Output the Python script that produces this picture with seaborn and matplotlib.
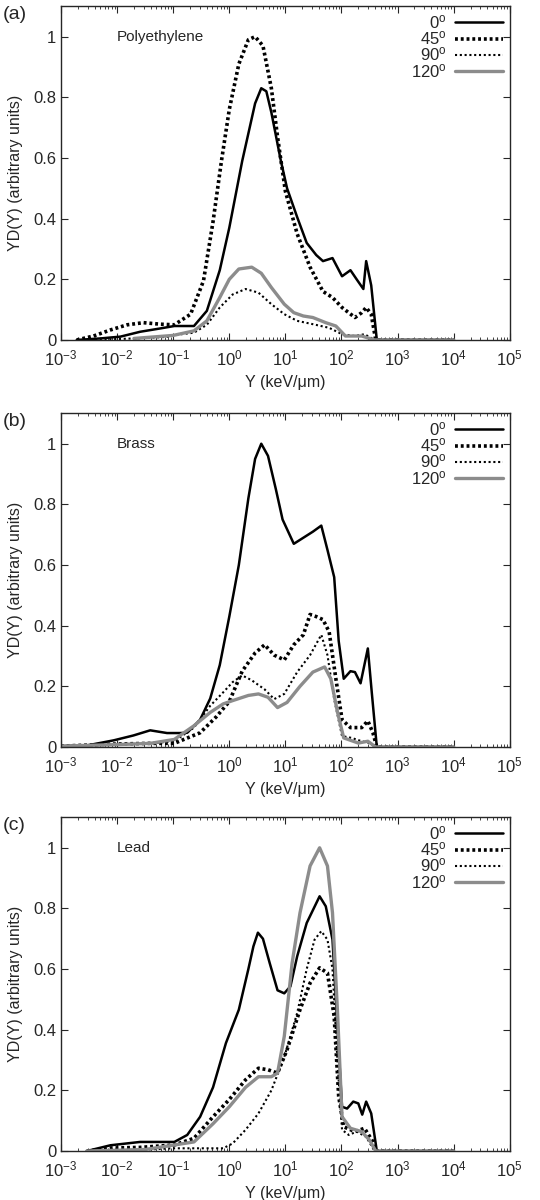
import numpy as np
import pandas as pd
import matplotlib
matplotlib.use("Agg")
import matplotlib.pyplot as plt
import seaborn as sns
from matplotlib.ticker import LogLocator, NullFormatter, FuncFormatter, MultipleLocator

# x values stored as log10(Y / keV/um)
angles = ["0", "45", "90", "120"]

# (a) Polyethylene
pe_0_lx = [-2.72, -2.3, -1.94, -1.59, -1.23, -0.98, -0.63, -0.4, -0.17, 0.0, 0.23, 0.46, 0.57, 0.66, 0.75,
           0.92, 1.03, 1.21, 1.38, 1.55, 1.67, 1.84, 2.01, 2.16, 2.27, 2.39, 2.44, 2.53, 2.63, 3.0, 3.5, 4.0]
pe_0_y = [0.0, 0.005, 0.011, 0.027, 0.038, 0.046, 0.046, 0.096, 0.23, 0.37, 0.59, 0.78, 0.83, 0.82, 0.75,
          0.59, 0.50, 0.405, 0.32, 0.28, 0.26, 0.27, 0.21, 0.23, 0.2, 0.168, 0.26, 0.18, 0.0, 0.0, 0.0, 0.0]
pe_45_lx = [-2.72, -2.42, -2.12, -1.82, -1.53, -1.23, -0.98, -0.69, -0.46, -0.29, -0.14, 0.0, 0.17, 0.34,
            0.46, 0.6, 0.75, 0.86, 1.0, 1.21, 1.44, 1.67, 1.84, 2.01, 2.24, 2.36, 2.44, 2.53, 2.61, 3.0, 3.5, 4.0]
pe_45_y = [0.0, 0.013, 0.033, 0.05, 0.057, 0.052, 0.05, 0.085, 0.195, 0.39, 0.59, 0.76, 0.91, 0.99,
           1.0, 0.97, 0.83, 0.67, 0.49, 0.35, 0.24, 0.16, 0.14, 0.107, 0.074, 0.09, 0.107, 0.085, 0.0, 0.0, 0.0, 0.0]
pe_90_lx = [-2.48, -1.7, -1.11, -0.9, -0.63, -0.4, -0.17, 0.06, 0.29, 0.52, 0.75, 0.98, 1.21, 1.49, 1.78,
            2.01, 2.24, 2.41, 2.59, 3.0, 3.5, 4.0]
pe_90_y = [0.0, 0.005, 0.01, 0.018, 0.024, 0.05, 0.107, 0.15, 0.168, 0.156, 0.118, 0.085, 0.063, 0.052, 0.04,
           0.019, 0.013, 0.019, 0.0, 0.0, 0.0, 0.0]
pe_120_lx = [-1.7, -1.0, -0.63, -0.4, -0.17, 0.0, 0.17, 0.4, 0.57, 0.75, 0.98, 1.15, 1.32, 1.49, 1.72,
             1.9, 2.07, 2.36, 2.59, 3.0, 3.5, 4.0]
pe_120_y = [0.005, 0.015, 0.03, 0.063, 0.14, 0.2, 0.234, 0.24, 0.22, 0.173, 0.118, 0.09, 0.079, 0.074, 0.057,
            0.046, 0.013, 0.013, 0.0, 0.0, 0.0, 0.0]

# (b) Brass
br_0_lx = [-3.0, -2.54, -2.06, -1.71, -1.41, -1.11, -0.88, -0.75, -0.52, -0.34, -0.17, 0.0, 0.17, 0.34,
           0.46, 0.57, 0.69, 0.83, 0.95, 1.15, 1.32, 1.49, 1.64, 1.75, 1.87, 1.95, 2.04, 2.16, 2.24, 2.34,
           2.47, 2.54, 2.63, 3.0, 3.5, 4.0]
br_0_y = [0.003, 0.005, 0.022, 0.038, 0.055, 0.046, 0.046, 0.047, 0.09, 0.16, 0.27, 0.43, 0.6, 0.82,
          0.95, 1.0, 0.96, 0.85, 0.75, 0.67, 0.69, 0.71, 0.73, 0.65, 0.56, 0.35, 0.225, 0.25, 0.247, 0.21,
          0.325, 0.18, 0.0, 0.0, 0.0, 0.0]
br_45_lx = [-3.0, -2.0, -1.41, -0.98, -0.52, -0.23, 0.0, 0.23, 0.46, 0.63, 0.8, 0.98, 1.15, 1.32, 1.44,
            1.55, 1.67, 1.78, 1.9, 2.01, 2.16, 2.36, 2.47, 2.56, 2.63, 3.0, 3.5, 4.0]
br_45_y = [0.003, 0.01, 0.012, 0.012, 0.047, 0.1, 0.15, 0.25, 0.31, 0.337, 0.303, 0.287, 0.337, 0.37, 0.437,
           0.43, 0.42, 0.38, 0.225, 0.09, 0.064, 0.064, 0.086, 0.047, 0.0, 0.0, 0.0, 0.0]
br_90_lx = [-3.0, -2.0, -1.41, -0.98, -0.63, -0.34, -0.11, 0.06, 0.23, 0.4, 0.63, 0.8, 0.98, 1.21, 1.44,
            1.64, 1.75, 1.87, 2.01, 2.18, 2.36, 2.5, 2.61, 3.0, 3.5, 4.0]
br_90_y = [0.003, 0.008, 0.012, 0.019, 0.064, 0.136, 0.18, 0.214, 0.236, 0.22, 0.19, 0.158, 0.175, 0.247, 0.303,
           0.37, 0.303, 0.158, 0.036, 0.03, 0.019, 0.013, 0.0, 0.0, 0.0, 0.0]
br_120_lx = [-3.0, -2.0, -1.41, -0.98, -0.63, -0.34, -0.11, 0.06, 0.34, 0.52, 0.69, 0.86, 1.03, 1.26, 1.49,
             1.7, 1.81, 1.93, 2.04, 2.3, 2.47, 2.61, 3.0, 3.5, 4.0]
br_120_y = [0.003, 0.008, 0.012, 0.025, 0.07, 0.114, 0.142, 0.153, 0.17, 0.175, 0.164, 0.13, 0.147, 0.2, 0.247,
            0.264, 0.225, 0.114, 0.03, 0.013, 0.019, 0.0, 0.0, 0.0, 0.0]

# (c) Lead
pb_0_lx = [-2.54, -2.12, -1.59, -1.23, -0.98, -0.75, -0.52, -0.29, -0.06, 0.17, 0.34, 0.43, 0.51, 0.6,
           0.72, 0.86, 0.98, 1.09, 1.21, 1.38, 1.61, 1.72, 1.84, 1.93, 2.01, 2.1, 2.21, 2.3, 2.37, 2.44,
           2.53, 2.63, 3.0, 3.5, 4.0]
pb_0_y = [0.0, 0.019, 0.03, 0.03, 0.03, 0.053, 0.113, 0.21, 0.356, 0.466, 0.6, 0.675, 0.72, 0.70,
          0.62, 0.53, 0.52, 0.543, 0.642, 0.752, 0.84, 0.807, 0.697, 0.4, 0.146, 0.14, 0.163, 0.157, 0.12, 0.163,
          0.124, 0.0, 0.0, 0.0, 0.0]
pb_45_lx = [-2.54, -2.12, -1.59, -0.98, -0.63, -0.29, 0.0, 0.29, 0.52, 0.69, 0.86, 1.03, 1.26, 1.44,
            1.61, 1.75, 1.87, 1.95, 2.04, 2.24, 2.41, 2.56, 2.63, 3.0, 3.5, 4.0]
pb_45_y = [0.0, 0.01, 0.012, 0.02, 0.042, 0.113, 0.17, 0.235, 0.273, 0.268, 0.257, 0.334, 0.466, 0.554,
           0.604, 0.587, 0.444, 0.18, 0.08, 0.064, 0.075, 0.031, 0.0, 0.0, 0.0, 0.0]
pb_90_lx = [-2.54, -1.5, -0.98, -0.11, 0.06, 0.29, 0.52, 0.75, 0.98, 1.21, 1.38, 1.52, 1.64, 1.75, 1.84,
            1.93, 2.01, 2.13, 2.27, 2.44, 2.59, 3.0, 3.5, 4.0]
pb_90_y = [0.0, 0.005, 0.009, 0.009, 0.025, 0.07, 0.124, 0.2, 0.31, 0.455, 0.6, 0.697, 0.725, 0.697, 0.6,
           0.29, 0.07, 0.053, 0.064, 0.047, 0.0, 0.0, 0.0, 0.0]
pb_120_lx = [-2.54, -1.5, -0.98, -0.63, -0.29, 0.0, 0.29, 0.52, 0.75, 0.86, 0.98, 1.12, 1.26, 1.44, 1.61,
             1.75, 1.84, 1.93, 2.01, 2.16, 2.36, 2.5, 2.61, 3.0, 3.5, 4.0]
pb_120_y = [0.0, 0.005, 0.02, 0.03, 0.09, 0.146, 0.21, 0.245, 0.245, 0.257, 0.378, 0.62, 0.785, 0.94, 1.0,
            0.94, 0.785, 0.455, 0.113, 0.075, 0.064, 0.036, 0.0, 0.0, 0.0, 0.0]

panels = [
    ("(a)", "Polyethylene", [(pe_0_lx, pe_0_y), (pe_45_lx, pe_45_y), (pe_90_lx, pe_90_y), (pe_120_lx, pe_120_y)]),
    ("(b)", "Brass", [(br_0_lx, br_0_y), (br_45_lx, br_45_y), (br_90_lx, br_90_y), (br_120_lx, br_120_y)]),
    ("(c)", "Lead", [(pb_0_lx, pb_0_y), (pb_45_lx, pb_45_y), (pb_90_lx, pb_90_y), (pb_120_lx, pb_120_y)]),
]

styles = {
    "0": dict(color="black", lw=1.8, ls="-"),
    "45": dict(color="black", lw=2.6, ls=(0, (0.8, 0.8))),
    "90": dict(color="black", lw=1.5, ls=(0, (1, 1.3))),
    "120": dict(color="#8c8c8c", lw=2.4, ls="-"),
}

sns.set_style("ticks")
plt.rcParams["font.family"] = ["Liberation Sans", "DejaVu Sans"]
plt.rcParams["mathtext.fontset"] = "custom"
plt.rcParams["mathtext.rm"] = "Liberation Sans"
plt.rcParams["mathtext.it"] = "Liberation Sans:italic"

fig = plt.figure(figsize=(5.4, 12), dpi=100)
bottoms = [0.7167, 0.3775, 0.0408]

for (tag, material, series), bottom in zip(panels, bottoms):
    ax = fig.add_axes([0.113, bottom, 0.831, 0.278])
    frames = []
    for ang, (lx, yv) in zip(angles, series):
        frames.append(pd.DataFrame({"Y": 10.0 ** np.array(lx), "YD": yv, "angle": ang}))
    df = pd.concat(frames, ignore_index=True)
    for ang in angles:
        sub = df[df["angle"] == ang]
        sns.lineplot(data=sub, x="Y", y="YD", ax=ax, sort=False, estimator=None,
                     label=f"{ang}$^{{\\rm o}}$", **styles[ang])

    ax.set_xscale("log")
    ax.set_xlim(1e-3, 1e5)
    ax.set_ylim(0, 1.1)
    ax.set_xticks(10.0 ** np.arange(-3, 6))
    ax.xaxis.set_minor_locator(LogLocator(base=10, subs=np.arange(2, 10), numticks=100))
    ax.xaxis.set_minor_formatter(NullFormatter())
    ax.yaxis.set_major_locator(MultipleLocator(0.2))
    ax.yaxis.set_major_formatter(FuncFormatter(lambda v, p: f"{v:g}"))
    ax.tick_params(which="both", direction="in", top=True, right=True, labelsize=12)
    ax.tick_params(which="major", length=5, width=0.8)
    ax.tick_params(which="minor", length=2.5, width=0.6)
    ax.tick_params(axis="x", which="major", pad=6)
    ax.tick_params(axis="y", which="major", pad=3.5)
    for sp in ax.spines.values():
        sp.set_linewidth(1.0)

    ax.set_xlabel("Y (keV/\u03bcm)", fontsize=11.5, labelpad=5)
    ax.set_ylabel("YD(Y) (arbitrary units)", fontsize=11.5, labelpad=7)
    ax.text(0.125, 0.907, material, transform=ax.transAxes, fontsize=11, va="center", ha="left")
    ax.text(-0.13, 1.0, tag, transform=ax.transAxes, fontsize=14, va="top", ha="left")

    ax.legend(loc="upper right", frameon=False, markerfirst=False, fontsize=12,
              handlelength=2.9, handletextpad=0.5, labelspacing=-0.1,
              borderaxespad=0.2, borderpad=0.2)

fig.savefig("out.png", dpi=100)
